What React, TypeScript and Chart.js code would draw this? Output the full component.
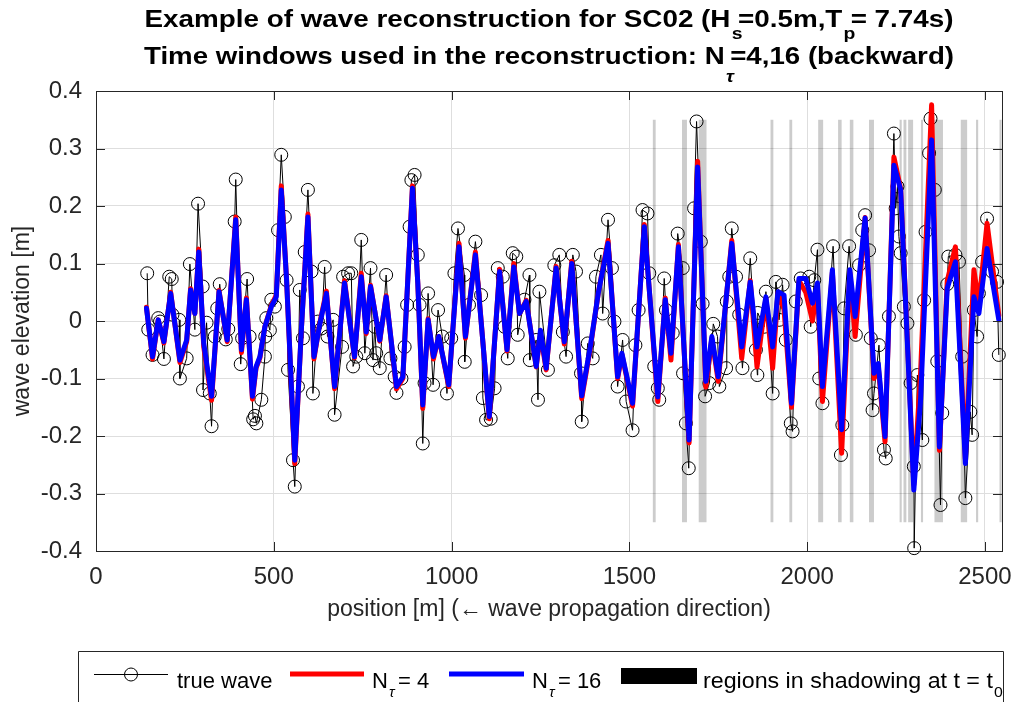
import React, { useEffect, useRef } from 'react';
import { Chart, registerables } from 'chart.js';

Chart.register(...registerables);

// ---- true wave (position [m], elevation [m]) ----
const trueX = [
  144, 147, 159, 175, 180, 191, 206, 213, 215, 234, 236, 255, 264, 278, 287, 300, 301, 311, 320, 325,
  334, 341, 348, 365, 372, 390, 393, 407, 411, 425, 432, 442, 447, 451, 465, 475, 476, 479, 489, 493,
  503, 512, 521, 531, 536, 540, 554, 559, 568, 573, 582, 587, 596, 606, 610, 624, 634, 643, 651, 667,
  671, 692, 695, 709, 718, 723, 732, 746, 756, 772, 779, 784, 788, 798, 816, 828, 840, 845, 859, 868,
  875, 882, 887, 896, 905, 910, 919, 924, 934, 948, 962, 974, 987, 999, 1008, 1018, 1036, 1037, 1049, 1067,
  1083, 1088, 1097, 1110, 1121, 1130, 1144, 1149, 1158, 1172, 1182, 1186, 1205, 1219, 1220, 1238, 1243, 1247, 1271, 1289,
  1303, 1313, 1322, 1341, 1350, 1364, 1366, 1383, 1397, 1406, 1420, 1425, 1440, 1451, 1458, 1467, 1481, 1491, 1509, 1517,
  1526, 1537, 1551, 1556, 1570, 1580, 1584, 1598, 1603, 1622, 1636, 1650, 1651, 1659, 1667, 1682, 1689, 1701, 1706, 1713,
  1725, 1736, 1748, 1753, 1772, 1774, 1781, 1788, 1800, 1809, 1818, 1840, 1856, 1860, 1861, 1879, 1884, 1903, 1912, 1921,
  1931, 1940, 1954, 1959, 1968, 1982, 2006, 2010, 2020, 2029, 2034, 2043, 2073, 2095, 2099, 2104, 2118, 2137, 2146, 2155,
  2163, 2174, 2179, 2184, 2188, 2202, 2216, 2221, 2230, 2244, 2249, 2254, 2258, 2263, 2272, 2282, 2291, 2300, 2301, 2310,
  2324, 2329, 2333, 2343, 2347, 2359, 2366, 2375, 2380, 2394, 2397, 2417, 2427, 2436, 2445, 2459, 2464, 2469, 2478, 2483,
  2492, 2506, 2520, 2534, 2539,
];
const trueY = [
  0.083, -0.015, -0.059, 0.005, -0.001, -0.066, 0.077, 0.073, 0.011, 0.002, -0.1, -0.065, 0.099, -0.015, 0.204, 0.06, -0.12, -0.003, -0.126, -0.183,
  -0.027, 0.022, 0.064, -0.032, -0.014, 0.173, 0.246, -0.075, -0.03, 0.073, -0.027, -0.171, -0.165, -0.178, -0.137, -0.062, -0.027, 0.005, -0.016, 0.037,
  0.025, 0.158, 0.289, 0.181, 0.071, -0.085, -0.242, -0.288, -0.114, 0.054, -0.03, 0.12, 0.228, 0.086, -0.126, -0.001, -0.013, 0.094, -0.027, 0.002,
  -0.163, -0.045, 0.077, 0.083, 0.083, -0.079, -0.062, 0.141, -0.056, 0.092, -0.068, -0.01, -0.056, -0.082, 0.08, -0.065, -0.097, -0.125, -0.1, -0.045,
  0.028, 0.164, 0.245, 0.254, 0.115, 0.028, -0.213, -0.108, 0.048, -0.111, 0.019, -0.027, -0.126, -0.03, 0.083, 0.161, 0.08, -0.071, 0.028, 0.138,
  0.045, -0.134, -0.172, -0.17, -0.117, 0.092, 0.077, -0.01, -0.065, 0.118, 0.112, -0.024, 0.037, 0.08, -0.068, -0.033, -0.137, 0.051, -0.085, 0.097,
  0.115, -0.019, -0.062, 0.115, 0.086, -0.091, -0.175, -0.039, -0.065, 0.077, 0.115, 0.013, 0.176, 0.092, -0.001, -0.114, -0.033, -0.14, -0.19, -0.042,
  0.019, 0.193, 0.187, 0.083, -0.079, -0.117, -0.137, 0.074, 0.019, -0.021, 0.152, 0.092, -0.091, -0.178, -0.256, 0.196, 0.347, 0.138, 0.03, -0.131,
  -0.108, -0.005, -0.027, -0.114, -0.082, 0.034, 0.077, 0.161, 0.077, 0.011, -0.082, 0.109, -0.05, -0.094, 0.014, -0.01, 0.051, -0.126, 0.068, 0.002,
  0.063, -0.033, -0.178, -0.192, 0.034, 0.074, 0.077, -0.01, 0.071, 0.124, -0.1, -0.143, 0.13, -0.233, -0.181, 0.022, 0.13, -0.024, 0.097, 0.158,
  0.184, 0.123, -0.03, -0.155, -0.126, -0.042, -0.224, -0.239, 0.008, 0.326, 0.196, 0.234, 0.147, 0.118, 0.025, -0.004, -0.108, -0.253, -0.395, -0.094,
  -0.207, 0.036, 0.155, 0.292, 0.352, 0.228, -0.07, -0.32, -0.16, 0.064, 0.112, 0.115, 0.103, -0.062, -0.308, -0.158, -0.198, 0.019, -0.027, 0.048,
  0.103, 0.178, 0.086, 0.068, -0.059,
];

// ---- reconstructions ----
const recX = [
  142, 159, 175, 191, 210, 236, 255, 266, 278, 289, 303, 325, 346, 369, 393, 409, 423, 440, 450, 461,
  475, 493, 507, 521, 536, 559, 578, 596, 613, 629, 648, 671, 699, 727, 746, 760, 772, 798, 816, 845,
  863, 890, 905, 919, 934, 949, 964, 992, 1021, 1039, 1067, 1106, 1135, 1156, 1175, 1191, 1210, 1238, 1250, 1266,
  1294, 1317, 1338, 1366, 1390, 1413, 1440, 1467, 1479, 1509, 1542, 1580, 1601, 1617, 1638, 1668, 1692, 1715, 1732, 1750,
  1788, 1816, 1840, 1859, 1884, 1903, 1918, 1935, 1956, 1977, 1996, 2015, 2029, 2043, 2071, 2097, 2120, 2135, 2163, 2188,
  2200, 2219, 2244, 2263, 2300, 2319, 2350, 2372, 2394, 2417, 2445, 2469, 2483, 2506, 2539,
];
const n16Y = [
  0.022, -0.062, 0.002, -0.036, 0.048, -0.068, -0.033, 0.054, 0.013, 0.12, -0.039, -0.131, 0.051, -0.033, 0.176, -0.05, 0.037, -0.131, -0.08, -0.062,
  -0.01, 0.025, 0.042, 0.228, 0.071, -0.242, -0.01, 0.181, -0.062, -0.007, 0.048, -0.114, 0.066, -0.062, 0.077, -0.019, 0.06, -0.033, 0.042, -0.114,
  -0.097, 0.231, 0.066, -0.146, 0.002, -0.062, -0.027, -0.111, 0.129, -0.027, 0.115, -0.166, 0.086, -0.05, 0.094, 0.013, 0.034, -0.079, -0.016, -0.082,
  0.092, -0.036, 0.1, -0.13, -0.045, 0.05, 0.135, -0.097, -0.056, -0.143, 0.164, -0.132, 0.037, -0.056, 0.129, -0.207, 0.268, -0.105, -0.027, -0.097,
  0.135, -0.045, 0.068, -0.045, 0.042, -0.045, 0.051, 0.045, -0.143, 0.074, 0.074, 0.031, 0.066, -0.114, 0.089, -0.189, 0.089, 0.008, 0.179, -0.091,
  -0.074, -0.201, 0.271, 0.228, -0.294, -0.137, 0.315, -0.219, 0.057, 0.103, -0.248, 0.042, 0.013, 0.126, 0.002,
];
const n4Y = [
  0.024, -0.066, 0.002, -0.038, 0.05, -0.072, -0.036, 0.056, 0.013, 0.125, -0.045, -0.138, 0.053, -0.036, 0.181, -0.055, 0.04, -0.136, -0.082, -0.064,
  -0.01, 0.027, 0.045, 0.235, 0.071, -0.248, -0.01, 0.186, -0.066, -0.005, 0.052, -0.118, 0.07, -0.064, 0.083, -0.022, 0.062, -0.035, 0.044, -0.118,
  -0.1, 0.235, 0.066, -0.152, 0.004, -0.066, -0.027, -0.114, 0.135, -0.03, 0.12, -0.17, 0.09, -0.052, 0.1, 0.013, 0.036, -0.08, -0.022, -0.085,
  0.095, -0.04, 0.104, -0.135, -0.048, 0.05, 0.14, -0.1, -0.058, -0.148, 0.168, -0.14, 0.04, -0.068, 0.133, -0.212, 0.278, -0.115, -0.03, -0.105,
  0.14, -0.065, 0.07, -0.08, 0.04, -0.082, 0.05, 0.02, -0.15, 0.07, 0.05, 0.0, 0.06, -0.14, 0.085, -0.23, 0.085, -0.027, 0.18, -0.1,
  -0.08, -0.21, 0.285, 0.23, -0.285, -0.09, 0.376, -0.225, 0.07, 0.129, -0.24, 0.089, 0.03, 0.17, 0.01,
];

// ---- regions in shadowing at t = t0 [m] ----
const shadowStart = [1566, 1648, 1695, 1897, 1950, 2031, 2087, 2120, 2174, 2260, 2271, 2284, 2320, 2358, 2432, 2475, 2541];
const shadowEnd = [1574, 1662, 1717, 1905, 1958, 2045, 2097, 2130, 2188, 2266, 2279, 2298, 2326, 2382, 2450, 2481, 2547];
const shadowLow = -0.35;
const shadowHigh = 0.35;

// ---- axis ticks ----
const xTicks = [0, 500, 1000, 1500, 2000, 2500];
const yTicks = [-0.4, -0.3, -0.2, -0.1, 0, 0.1, 0.2, 0.3, 0.4];
const xMin = 0;
const xMax = 2548;

const FONT = '"Liberation Sans", Arial, Helvetica, sans-serif';
const AXIS_COLOR = '#262626';

type Seg = { t: string; sub?: boolean; it?: boolean };

function drawRich(
  ctx: CanvasRenderingContext2D, segs: Seg[], x: number, y: number, size: number, bold: boolean,
  subSize: number, subDy: number, align: 'center' | 'left', targetW?: number,
) {
  const mainF = `${bold ? 'bold ' : ''}${size}px ${FONT}`;
  const subF = (it?: boolean) => `${it ? 'italic ' : ''}${bold ? 'bold ' : ''}${subSize}px ${FONT}`;
  const advs: number[] = [];
  let total = 0;
  segs.forEach((s) => {
    ctx.font = s.sub ? subF(s.it) : mainF;
    const w = ctx.measureText(s.t).width;
    const adv = s.sub ? w * 0.7 : w;
    advs.push(adv);
    total += adv;
  });
  const sx = targetW ? targetW / total : 1;
  const startX = align === 'center' ? x - (total * sx) / 2 : x;
  ctx.save();
  ctx.translate(startX, y);
  ctx.scale(sx, 1);
  ctx.textBaseline = 'alphabetic';
  ctx.textAlign = 'left';
  ctx.fillStyle = '#000';
  let cx = 0;
  segs.forEach((s, i) => {
    ctx.font = s.sub ? subF(s.it) : mainF;
    ctx.fillText(s.t, cx + (s.sub ? 1 : 0), s.sub ? subDy : 0);
    cx += advs[i];
  });
  ctx.restore();
}

const decor = {
  id: 'decor',
  beforeDatasetsDraw(chart: any) {
    const { ctx, scales } = chart;
    const xs = scales.x;
    const ys = scales.y;
    ctx.save();
    ctx.fillStyle = 'rgba(0,0,0,0.2)';
    const yt = ys.getPixelForValue(shadowHigh);
    const yb = ys.getPixelForValue(shadowLow);
    for (let i = 0; i < shadowStart.length; i++) {
      const x1 = xs.getPixelForValue(shadowStart[i]);
      const x2 = xs.getPixelForValue(shadowEnd[i]);
      ctx.fillRect(x1, yt, Math.max(2, x2 - x1), yb - yt);
    }
    ctx.restore();
  },
  afterDatasetsDraw(chart: any) {
    const { ctx, chartArea: a, scales } = chart;
    ctx.save();
    ctx.strokeStyle = AXIS_COLOR;
    ctx.lineWidth = 1;
    ctx.strokeRect(Math.round(a.left) + 0.5, Math.round(a.top) + 0.5, Math.round(a.right - a.left), Math.round(a.bottom - a.top));
    const tl = 9;
    ctx.beginPath();
    scales.x.ticks.forEach((t: any) => {
      const px = Math.round(scales.x.getPixelForValue(t.value)) + 0.5;
      ctx.moveTo(px, a.bottom); ctx.lineTo(px, a.bottom - tl);
      ctx.moveTo(px, a.top); ctx.lineTo(px, a.top + tl);
    });
    scales.y.ticks.forEach((t: any) => {
      const py = Math.round(scales.y.getPixelForValue(t.value)) + 0.5;
      ctx.moveTo(a.left, py); ctx.lineTo(a.left + tl, py);
      ctx.moveTo(a.right, py); ctx.lineTo(a.right - tl, py);
    });
    ctx.stroke();
    ctx.restore();
  },
  afterDraw(chart: any) {
    const { ctx, chartArea: a } = chart;
    const cx = (a.left + a.right) / 2;
    // title
    drawRich(ctx, [
      { t: 'Example of wave reconstruction for SC02 (H' }, { t: 's', sub: true },
      { t: '=0.5m,T' }, { t: 'p', sub: true }, { t: '= 7.74s)' },
    ], cx, 27, 23, true, 16, 12, 'center', 809);
    drawRich(ctx, [
      { t: 'Time windows used in the reconstruction: N' }, { t: 'τ', sub: true, it: true }, { t: '=4,16 (backward)' },
    ], cx, 64, 23, true, 16, 18, 'center', 810);

    // legend
    ctx.save();
    ctx.strokeStyle = AXIS_COLOR;
    ctx.lineWidth = 1;
    ctx.fillStyle = '#fff';
    ctx.fillRect(79, 652, 924, 60);
    ctx.beginPath();
    ctx.moveTo(78.5, 710); ctx.lineTo(78.5, 651.5); ctx.lineTo(1003.5, 651.5); ctx.lineTo(1003.5, 710);
    ctx.stroke();
    const ly = 674;
    ctx.strokeStyle = '#000';
    ctx.beginPath(); ctx.moveTo(94, ly + 0.5); ctx.lineTo(168, ly + 0.5); ctx.stroke();
    ctx.beginPath(); ctx.arc(131, ly + 0.5, 6.5, 0, Math.PI * 2); ctx.stroke();
    ctx.lineWidth = 5;
    ctx.strokeStyle = '#ff0000';
    ctx.beginPath(); ctx.moveTo(290, ly); ctx.lineTo(364, ly); ctx.stroke();
    ctx.strokeStyle = '#0000ff';
    ctx.beginPath(); ctx.moveTo(449, ly); ctx.lineTo(524, ly); ctx.stroke();
    ctx.fillStyle = '#000';
    ctx.fillRect(621, 668, 76, 16);
    ctx.restore();
    drawRich(ctx, [{ t: 'true wave' }], 177, 688, 22, false, 15, 9, 'left');
    drawRich(ctx, [{ t: 'N' }, { t: 'τ', sub: true, it: true }, { t: ' = 4' }], 372, 688, 22, false, 15, 9, 'left');
    drawRich(ctx, [{ t: 'N' }, { t: 'τ', sub: true, it: true }, { t: ' = 16' }], 532, 688, 22, false, 15, 9, 'left');
    drawRich(ctx, [{ t: 'regions in shadowing at t = t' }, { t: '0', sub: true }], 703, 688, 22, false, 15, 9, 'left', 296);
  },
};

export default function App() {
  const ref = useRef<HTMLCanvasElement | null>(null);
  useEffect(() => {
    document.body.style.margin = '0';
    const canvas = ref.current;
    if (!canvas) return;
    const chart = new Chart(canvas, {
      type: 'line',
      data: {
        datasets: [
          {
            label: 'true wave',
            data: trueX.map((x, i) => ({ x, y: trueY[i] })),
            borderColor: '#000',
            borderWidth: 1,
            pointRadius: 6.5,
            pointBorderColor: '#000',
            pointBackgroundColor: 'rgba(0,0,0,0)',
            pointBorderWidth: 1,
            clip: false as any,
            order: 3,
          },
          {
            label: 'N = 4',
            data: recX.map((x, i) => ({ x, y: n4Y[i] })),
            borderColor: '#ff0000',
            borderWidth: 5,
            pointRadius: 0,
            borderJoinStyle: 'round',
            borderCapStyle: 'round',
            order: 2,
          },
          {
            label: 'N = 16',
            data: recX.map((x, i) => ({ x, y: n16Y[i] })),
            borderColor: '#0000ff',
            borderWidth: 5,
            pointRadius: 0,
            borderJoinStyle: 'round',
            borderCapStyle: 'round',
            order: 1,
          },
        ],
      },
      options: {
        responsive: false,
        animation: false,
        devicePixelRatio: 1,
        layout: { padding: { top: 91, right: 13, left: 0, bottom: 0 } },
        plugins: { legend: { display: false }, title: { display: false }, tooltip: { enabled: false } },
        elements: { line: { tension: 0 } },
        scales: {
          x: {
            type: 'linear',
            min: xMin,
            max: xMax,
            afterBuildTicks: (s: any) => { s.ticks = xTicks.map((v) => ({ value: v })); },
            afterFit: (s: any) => { s.height = 151; s.paddingLeft = 0; s.paddingRight = 0; },
            ticks: {
              font: { size: 24, family: FONT },
              color: AXIS_COLOR,
              padding: 12,
              maxRotation: 0,
              autoSkip: false,
              callback: (v: any) => String(v),
            },
            grid: { color: '#dedede', drawTicks: false },
            border: { display: false },
            title: {
              display: true,
              text: 'position [m] (← wave propagation direction)',
              font: { size: 23, family: FONT },
              color: AXIS_COLOR,
              padding: { top: 0, bottom: 79 },
            },
          },
          y: {
            type: 'linear',
            min: -0.4,
            max: 0.4,
            afterBuildTicks: (s: any) => { s.ticks = yTicks.map((v) => ({ value: v })); },
            afterFit: (s: any) => { s.width = 96; s.paddingTop = 0; s.paddingBottom = 0; },
            ticks: {
              font: { size: 24, family: FONT },
              color: AXIS_COLOR,
              padding: 14,
              autoSkip: false,
              callback: (v: any) => {
                const r = Math.round(Number(v) * 10) / 10;
                return r === 0 ? '0' : String(r);
              },
            },
            grid: { color: '#dedede', drawTicks: false },
            border: { display: false },
            title: {
              display: true,
              text: 'wave elevation [m]',
              font: { size: 23, family: FONT },
              color: AXIS_COLOR,
              padding: { top: 9, bottom: 0 },
            },
          },
        },
      },
      plugins: [decor],
    } as any);
    return () => chart.destroy();
  }, []);
  return (
    <div style={{ width: 1015, height: 702, background: '#fff' }}>
      <canvas ref={ref} width={1015} height={702} style={{ display: 'block' }} />
    </div>
  );
}
